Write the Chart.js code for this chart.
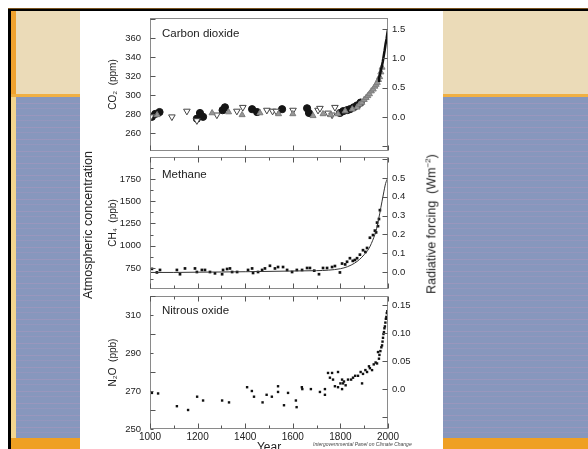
<!DOCTYPE html>
<html lang="en">
<head>
  <meta charset="UTF-8">
  <title>Atmospheric concentration of CO2, CH4 and N2O</title>
  <script src="https://cdn.jsdelivr.net/npm/chart.js"></script>
  <style>
    body { margin: 0; width: 588px; height: 449px; overflow: hidden; background: #fff; position: relative;
           font-family: "Liberation Sans", Arial, sans-serif; color: #222; }
    .bg { position: absolute; }
    .blue { background-color: #8797bd;
            background-image: repeating-linear-gradient(180deg, transparent 0 6px, rgba(176,150,190,.45) 6px 7px, transparent 7px 11px, rgba(176,150,190,.3) 11px 12px); }
    canvas { position: absolute; }
    .vtext { position: absolute; white-space: nowrap; transform: translate(-50%, -50%) rotate(-90deg); font-size: 12.5px; }
  </style>
</head>
<body>
  <!-- slide background -->
  <div class="bg" style="left:8px;top:8px;width:580px;height:1px;background:#7a5420"></div>
  <div class="bg" style="left:8px;top:9px;width:580px;height:2px;background:#000"></div>
  <div class="bg" style="left:8px;top:9px;width:3px;height:440px;background:#000"></div>
  <div class="bg" style="left:11px;top:11px;width:5px;height:83px;background:#f0a22e"></div>
  <div class="bg" style="left:16px;top:11px;width:572px;height:83px;background:#ebdbb8"></div>
  <div class="bg" style="left:11px;top:94px;width:577px;height:3px;background:#f1b043"></div>
  <div class="bg" style="left:11px;top:97px;width:5px;height:341px;background:#f3d58e"></div>
  <div class="bg blue" style="left:16px;top:97px;width:572px;height:341px"></div>
  <div class="bg" style="left:11px;top:438px;width:577px;height:11px;background:#efa023"></div>
  <div class="bg" style="left:80px;top:11px;width:363px;height:438px;background:#fff"></div>

  <canvas id="co2" width="363" height="145" style="left:80px;top:11px"></canvas>
  <canvas id="ch4" width="363" height="145" style="left:80px;top:150px"></canvas>
  <canvas id="n2o" width="363" height="160" style="left:80px;top:289px"></canvas>

  <div class="vtext" style="left:88px;top:225px">Atmospheric concentration</div>
  <div class="vtext" style="left:431px;top:224px">Radiative forcing&nbsp; (Wm<sup style="font-size:8px">−2</sup>)</div>
  <div style="position:absolute;left:269px;top:441px;transform:translateX(-50%);font-size:12px;line-height:12px">Year</div>
  <div style="position:absolute;left:313px;top:441px;font-size:5px;font-style:italic;color:#444;white-space:nowrap">Intergovernmental Panel on Climate Change</div>

  <script>
    // ticks
    const yearTicks = [1000, 1200, 1400, 1600, 1800, 2000];
    const co2Ticks = [260, 280, 300, 320, 340, 360];
    const co2ForcingTicks = [0, 0.5, 1.0, 1.5];
    const co2ForcingLabels = ['0.0', '0.5', '1.0', '1.5'];
    const ch4Ticks = [750, 1000, 1250, 1500, 1750];
    const ch4ForcingTicks = [0, 0.1, 0.2, 0.3, 0.4, 0.5];
    const ch4ForcingLabels = ['0.0', '0.1', '0.2', '0.3', '0.4', '0.5'];
    const n2oTicks = [250, 270, 290, 310];
    const n2oForcingTicks = [0, 0.05, 0.10, 0.15];
    const n2oForcingLabels = ['0.0', '0.05', '0.10', '0.15'];

    // axis extents (concentration and matching forcing)
    const co2Range = [241, 381], co2ForcingRange = [-0.58, 1.69];
    const ch4Range = [514, 1997], ch4ForcingRange = [-0.09, 0.612];
    const n2oRange = [250, 320], n2oForcingRange = [-0.071, 0.166];

    // carbon dioxide (ppm)
    const co2CircleYears = [1008, 1022, 1040, 1197, 1210, 1223, 1305, 1315, 1429, 1450, 1555, 1660, 1668, 1798, 1812, 1828, 1840, 1856, 1870, 1885];
    const co2CircleValues = [277, 280, 282, 275, 281, 277, 284, 287, 285, 282, 285, 286, 281, 281, 283, 284, 285, 287, 289, 292];
    const co2OpenYears = [1003, 1092, 1155, 1197, 1281, 1365, 1390, 1491, 1515, 1530, 1601, 1706, 1714, 1748, 1765, 1777];
    const co2OpenValues = [277, 277, 283, 273, 279, 283, 287, 284, 283, 283, 284, 284, 286, 281, 279, 287];
    const co2GreyYears = [1030, 1261, 1330, 1387, 1462, 1540, 1600, 1685, 1727, 1760, 1790, 1820, 1850, 1870, 1880, 1890, 1900, 1908, 1915, 1922, 1930, 1938, 1945, 1950, 1955, 1960, 1965, 1970, 1975];
    const co2GreyValues = [279, 281, 282, 279, 281, 280, 280, 278, 280, 279, 280, 283, 285, 287, 290, 292, 295, 297, 299, 301, 304, 306, 309, 311, 313, 316, 319, 324, 329];
    const co2LineYears = [1958, 1962, 1966, 1970, 1974, 1978, 1982, 1986, 1990, 1994, 1998, 2000];
    const co2LineValues = [315, 318, 321, 326, 330, 335, 341, 347, 354, 359, 366, 369];

    // methane (ppb)
    const ch4Years = [1008, 1029, 1042, 1113, 1126, 1147, 1189, 1197, 1218, 1231, 1252, 1273, 1303, 1307, 1324, 1336, 1345, 1366, 1412, 1429,
                      1433, 1454, 1471, 1483, 1504, 1525, 1538, 1559, 1576, 1597, 1617, 1639, 1660, 1672, 1690, 1710, 1727, 1744, 1765, 1777,
                      1798, 1807, 1820, 1828, 1840, 1852, 1861, 1870, 1882, 1895, 1905, 1912, 1924, 1937, 1945, 1950, 1954, 1958, 1962, 1966];
    const ch4Values = [740, 700, 728, 728, 680, 745, 745, 705, 728, 728, 705, 690, 680, 728, 739, 745, 705, 705, 728, 745,
                       694, 705, 728, 745, 775, 745, 761, 761, 728, 705, 728, 728, 750, 750, 720, 680, 750, 750, 761, 772,
                       700, 800, 790, 820, 860, 830, 840, 860, 900, 950, 930, 975, 1090, 1120, 1170, 1150, 1260, 1220, 1300, 1400];
    const ch4LineYears = [1000, 1100, 1200, 1300, 1400, 1500, 1600, 1700, 1750, 1800, 1830, 1860, 1880, 1900, 1920, 1940, 1950, 1960, 1970, 1980, 1990, 2000];
    const ch4LineValues = [700, 700, 703, 705, 708, 712, 716, 720, 726, 742, 765, 805, 845, 900, 970, 1090, 1170, 1290, 1430, 1570, 1700, 1765];

    // nitrous oxide (ppb)
    const n2oYears = [1008, 1034, 1113, 1160, 1198, 1223, 1303, 1332, 1408, 1428, 1437, 1473, 1490, 1512, 1538, 1538, 1563, 1580, 1613, 1616,
                      1638, 1640, 1676, 1714, 1735, 1735, 1748, 1756, 1765, 1769, 1777, 1790, 1790, 1800, 1807, 1807, 1811, 1815, 1822, 1832,
                      1845, 1853, 1862, 1874, 1885, 1891, 1895, 1905, 1912, 1920, 1924, 1933, 1940, 1948, 1954, 1958, 1962, 1964, 1968, 1972,
                      1975, 1977, 1979, 1981, 1983, 1985, 1987, 1989, 1991, 1993, 1995, 1997];
    const n2oValues = [269, 268.7, 262, 260, 267, 265, 265, 264, 272, 270, 267, 264, 268, 267, 272.5, 269.5, 262.5, 269, 265, 261.5,
                       272, 271, 271, 269.5, 271, 268, 279.5, 277, 279.5, 276, 272.5, 280, 272, 274, 276, 271, 274, 275, 273, 276,
                       276, 277, 278, 278, 280, 274, 279, 281, 280, 283, 282, 281, 284, 285, 284.5, 290.5, 287, 289, 291, 293,
                       294, 296, 298, 300, 301, 303, 304, 306, 308, 309, 311, 312];

    const fontFamily = '"Liberation Sans", Arial, sans-serif';
    const tickFont = { family: fontFamily, size: 9.5 };

    function pts(xs, ys) {
      return xs.map((x, i) => ({ x: x, y: ys[i] }));
    }

    function fixedTicks(values) {
      return function (scale) { scale.ticks = values.map(v => ({ value: v })); };
    }

    // fixed box size, and no extra room reserved for the end labels
    function fixBox(w, h) {
      return function (s) {
        if (w) s.width = w;
        if (h) s.height = h;
        s.paddingTop = s.paddingBottom = s.paddingLeft = s.paddingRight = 0;
      };
    }

    function leftAxis(range, ticks, title) {
      return {
        position: 'left', min: range[0], max: range[1],
        afterBuildTicks: fixedTicks(ticks),
        afterFit: fixBox(70, 0),
        grid: { display: false, drawTicks: false },
        border: { display: false },
        ticks: { font: tickFont, color: '#222', padding: 9, autoSkip: false, callback: v => String(v) },
        title: { display: true, text: title, color: '#222', font: { family: fontFamily, size: 10 }, padding: { top: 27, bottom: 0 } }
      };
    }

    function rightAxis(range, ticks, labels) {
      return {
        position: 'right', min: range[0], max: range[1],
        afterBuildTicks: fixedTicks(ticks),
        afterFit: fixBox(55, 0),
        grid: { display: false, drawTicks: false },
        border: { display: false },
        ticks: { font: tickFont, color: '#222', padding: 4, autoSkip: false, callback: (v, i) => labels[i] }
      };
    }

    function yearAxis(show) {
      if (!show) return { type: 'linear', min: 1000, max: 2000, display: false };
      return {
        type: 'linear', position: 'bottom', min: 1000, max: 2000,
        afterBuildTicks: fixedTicks(yearTicks),
        afterFit: fixBox(0, 20),
        grid: { display: false, drawTicks: false },
        border: { display: false },
        ticks: { font: { family: fontFamily, size: 10 }, color: '#222', padding: 2, maxRotation: 0, autoSkip: false, callback: v => String(v) }
      };
    }

    // frame, inward tick marks and panel name
    function inwardTicks(ctx, scale, step, major, edge, dir, horizontal) {
      const first = Math.ceil(scale.min / step - 1e-9) * step;
      for (let v = first; v <= scale.max + 1e-9; v += step) {
        const p = Math.round(scale.getPixelForValue(v)) + 0.5;
        const len = Math.abs(v / major - Math.round(v / major)) < 1e-6 ? 5 : 3;
        ctx.beginPath();
        if (horizontal) { ctx.moveTo(p, edge); ctx.lineTo(p, edge + dir * len); }
        else { ctx.moveTo(edge, p); ctx.lineTo(edge + dir * len, p); }
        ctx.stroke();
      }
    }

    const panelFrame = {
      id: 'panelFrame',
      afterDraw(chart, args, o) {
        const { ctx, chartArea: a, scales } = chart;
        const L = Math.round(a.left) + 0.5, R = Math.round(a.right) - 0.5;
        const T = Math.round(a.top) + 0.5, B = Math.round(a.bottom) - 0.5;
        ctx.save();
        ctx.strokeStyle = '#8a8a8a';
        ctx.lineWidth = 1;
        ctx.strokeRect(L, T, R - L, B - T);
        ctx.strokeStyle = '#555';
        if (o.xTop) inwardTicks(ctx, scales.x, o.xTop[0], o.xTop[1], T, 1, true);
        if (o.xBottom) inwardTicks(ctx, scales.x, o.xBottom[0], o.xBottom[1], B, -1, true);
        inwardTicks(ctx, scales.y, o.yLeft[0], o.yLeft[1], L, 1, false);
        inwardTicks(ctx, scales.y2, o.yRight[0], o.yRight[1], R, -1, false);
        ctx.fillStyle = '#222';
        ctx.font = '11.5px ' + fontFamily;
        ctx.textBaseline = 'middle';
        ctx.fillText(o.label, a.left + 12, a.top + o.labelY);
        ctx.restore();
      }
    };

    function makeChart(id, datasets, scales, frame, pad) {
      return new Chart(document.getElementById(id), {
        type: 'scatter',
        data: { datasets: datasets },
        options: {
          responsive: false,
          animation: false,
          devicePixelRatio: 1,
          events: [],
          layout: { padding: pad },
          plugins: { legend: { display: false }, tooltip: { enabled: false }, panelFrame: frame },
          scales: scales
        },
        plugins: [panelFrame]
      });
    }

    makeChart('co2', [
      { data: pts(co2LineYears, co2LineValues), showLine: true, borderColor: '#111', borderWidth: 2.5, pointRadius: 0 },
      { data: pts(co2GreyYears, co2GreyValues), pointStyle: 'triangle', pointRadius: 3.5, backgroundColor: '#969696', borderColor: '#7d7d7d', borderWidth: 1 },
      { data: pts(co2OpenYears, co2OpenValues), pointStyle: 'triangle', rotation: 180, pointRadius: 3.8, backgroundColor: '#fff', borderColor: '#444', borderWidth: 1 },
      { data: pts(co2CircleYears, co2CircleValues), pointStyle: 'circle', pointRadius: 3.6, backgroundColor: '#151515', borderColor: '#151515', borderWidth: 1 }
    ], {
      x: yearAxis(false),
      y: leftAxis(co2Range, co2Ticks, 'CO₂  (ppm)'),
      y2: rightAxis(co2ForcingRange, co2ForcingTicks, co2ForcingLabels)
    }, { label: 'Carbon dioxide', labelY: 16, xTop: null, xBottom: [200, 200], yLeft: [20, 20], yRight: [0.5, 0.5] },
    { top: 7, bottom: 5, left: 0, right: 0 });

    makeChart('ch4', [
      { data: pts(ch4LineYears, ch4LineValues), showLine: true, borderColor: '#333', borderWidth: 1, pointRadius: 0, cubicInterpolationMode: 'monotone' },
      { data: pts(ch4Years, ch4Values), pointStyle: 'rect', pointRadius: 1.9, backgroundColor: '#111', borderColor: '#111', borderWidth: 0 }
    ], {
      x: yearAxis(false),
      y: leftAxis(ch4Range, ch4Ticks, 'CH₄  (ppb)'),
      y2: rightAxis(ch4ForcingRange, ch4ForcingTicks, ch4ForcingLabels)
    }, { label: 'Methane', labelY: 18, xTop: [100, 200], xBottom: [100, 200], yLeft: [125, 250], yRight: [0.1, 0.1] },
    { top: 7, bottom: 6, left: 0, right: 0 });

    makeChart('n2o', [
      { data: pts(n2oYears, n2oValues), pointStyle: 'rect', pointRadius: 1.7, backgroundColor: '#111', borderColor: '#111', borderWidth: 0 }
    ], {
      x: yearAxis(true),
      y: leftAxis(n2oRange, n2oTicks, 'N₂O  (ppb)'),
      y2: rightAxis(n2oForcingRange, n2oForcingTicks, n2oForcingLabels)
    }, { label: 'Nitrous oxide', labelY: 15, xTop: [100, 200], xBottom: [100, 200], yLeft: [10, 20], yRight: [0.05, 0.05] },
    { top: 7, bottom: 0, left: 0, right: 0 });
  </script>
</body>
</html>
